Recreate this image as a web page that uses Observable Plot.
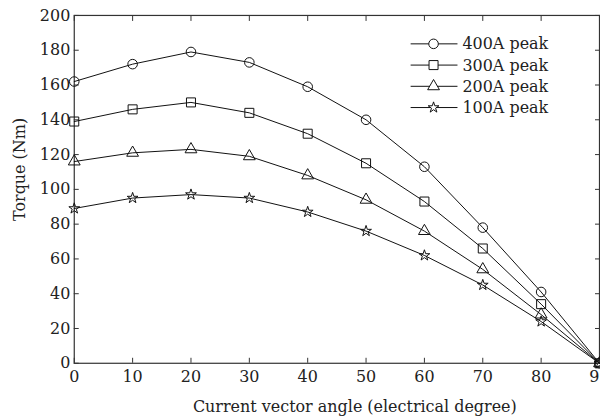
<!DOCTYPE html>
<html><head><meta charset="utf-8">
<script src="https://cdn.jsdelivr.net/npm/d3@7"></script>
<script src="https://cdn.jsdelivr.net/npm/@observablehq/plot@0.6"></script>
<style>
html,body{margin:0;padding:0;overflow:hidden;background:#fff}
#c{position:relative;width:600px;height:419px;overflow:hidden}
</style>
</head><body><div id="c"></div>
<script>
const angles = [0, 10, 20, 30, 40, 50, 60, 70, 80, 90];
const torque400 = [162, 172, 179, 173, 159, 140, 113, 78, 41, 0];
const torque300 = [139, 146, 150, 144, 132, 115, 93, 66, 34, 0];
const torque200 = [116, 121, 123, 119, 108, 94, 76, 54, 28, 0];
const torque100 = [89, 95, 97, 95, 87, 76, 62, 45, 24, 0];
const seriesNames = ["400A peak", "300A peak", "200A peak", "100A peak"];
const seriesSymbols = ["circle", "square", "triangle", "star"];
const xTicks = [0, 10, 20, 30, 40, 50, 60, 70, 80, 90];
const yTicks = [0, 20, 40, 60, 80, 100, 120, 140, 160, 180, 200];
const xLabel = "Current vector angle (electrical degree)";
const yLabel = "Torque (Nm)";

const allSeries = [torque400, torque300, torque200, torque100];
const data = [];
allSeries.forEach((vals, i) => vals.forEach((v, j) => data.push({angle: angles[j], torque: v, series: seriesNames[i]})));

// marker radius per symbol (styling)
const symbolR = {circle: 4.8, square: 5.1, triangle: 4.4, star: 3.4};

const font = "DejaVu Serif";
const fs = 16;
const plot = Plot.plot({
  width: 602, height: 419,
  marginLeft: 74, marginRight: 1, marginTop: 15, marginBottom: 55,
  style: {fontFamily: font, fontSize: fs + "px", color: "#222", background: "white", overflow: "visible"},
  x: {domain: [0, 90], label: null},
  y: {domain: [0, 200], label: null},
  symbol: {domain: seriesNames, range: seriesSymbols},
  marks: [
    Plot.axisX(xTicks, {anchor: "bottom", tickSize: -5, tickPadding: 12, label: null, stroke: "#333"}),
    Plot.axisX(xTicks, {anchor: "top", tickSize: -5, tickFormat: () => "", label: null, stroke: "#333"}),
    Plot.axisY(yTicks, {anchor: "left", tickSize: -5, tickPadding: 9, label: null, stroke: "#333"}),
    Plot.axisY(yTicks, {anchor: "right", tickSize: -5, tickFormat: () => "", label: null, stroke: "#333"}),
    Plot.frame({stroke: "#333", strokeWidth: 1.2}),
    Plot.line(data, {x: "angle", y: "torque", z: "series", stroke: "#111", strokeWidth: 1}),
    ...seriesNames.map((name, i) =>
      Plot.dot(data.filter(d => d.series === name), {x: "angle", y: "torque", symbol: "series",
        r: symbolR[seriesSymbols[i]], stroke: "#111", fill: "none", strokeWidth: 1}))
  ]
});
document.getElementById("c").appendChild(plot);

const svg = d3.select(plot);
svg.append("text").text(xLabel)
  .attr("x", 356).attr("y", 413).attr("text-anchor", "middle")
  .attr("font-family", font).attr("font-size", fs).attr("fill", "#222");
svg.append("text").text(yLabel)
  .attr("transform", "translate(25,170) rotate(-90)").attr("text-anchor", "middle")
  .attr("font-family", font).attr("font-size", fs).attr("fill", "#222");

const lg = svg.append("g");
const symMap = {circle: d3.symbolCircle, square: d3.symbolSquare, triangle: d3.symbolTriangle, star: d3.symbolStar};
seriesNames.forEach((name, i) => {
  const y = 44 + 21.3 * i;
  const s = seriesSymbols[i];
  lg.append("line").attr("x1", 412).attr("x2", 459).attr("y1", y).attr("y2", y).attr("stroke", "#111");
  lg.append("path").attr("d", d3.symbol(symMap[s], symbolR[s] * symbolR[s] * Math.PI)())
    .attr("transform", `translate(435,${y})`).attr("fill", "white").attr("stroke", "#111");
  lg.append("text").text(name).attr("x", 464).attr("y", y).attr("dy", "0.35em").attr("text-anchor", "start")
    .attr("font-family", font).attr("font-size", fs).attr("fill", "#222");
});
</script>
</body></html>
